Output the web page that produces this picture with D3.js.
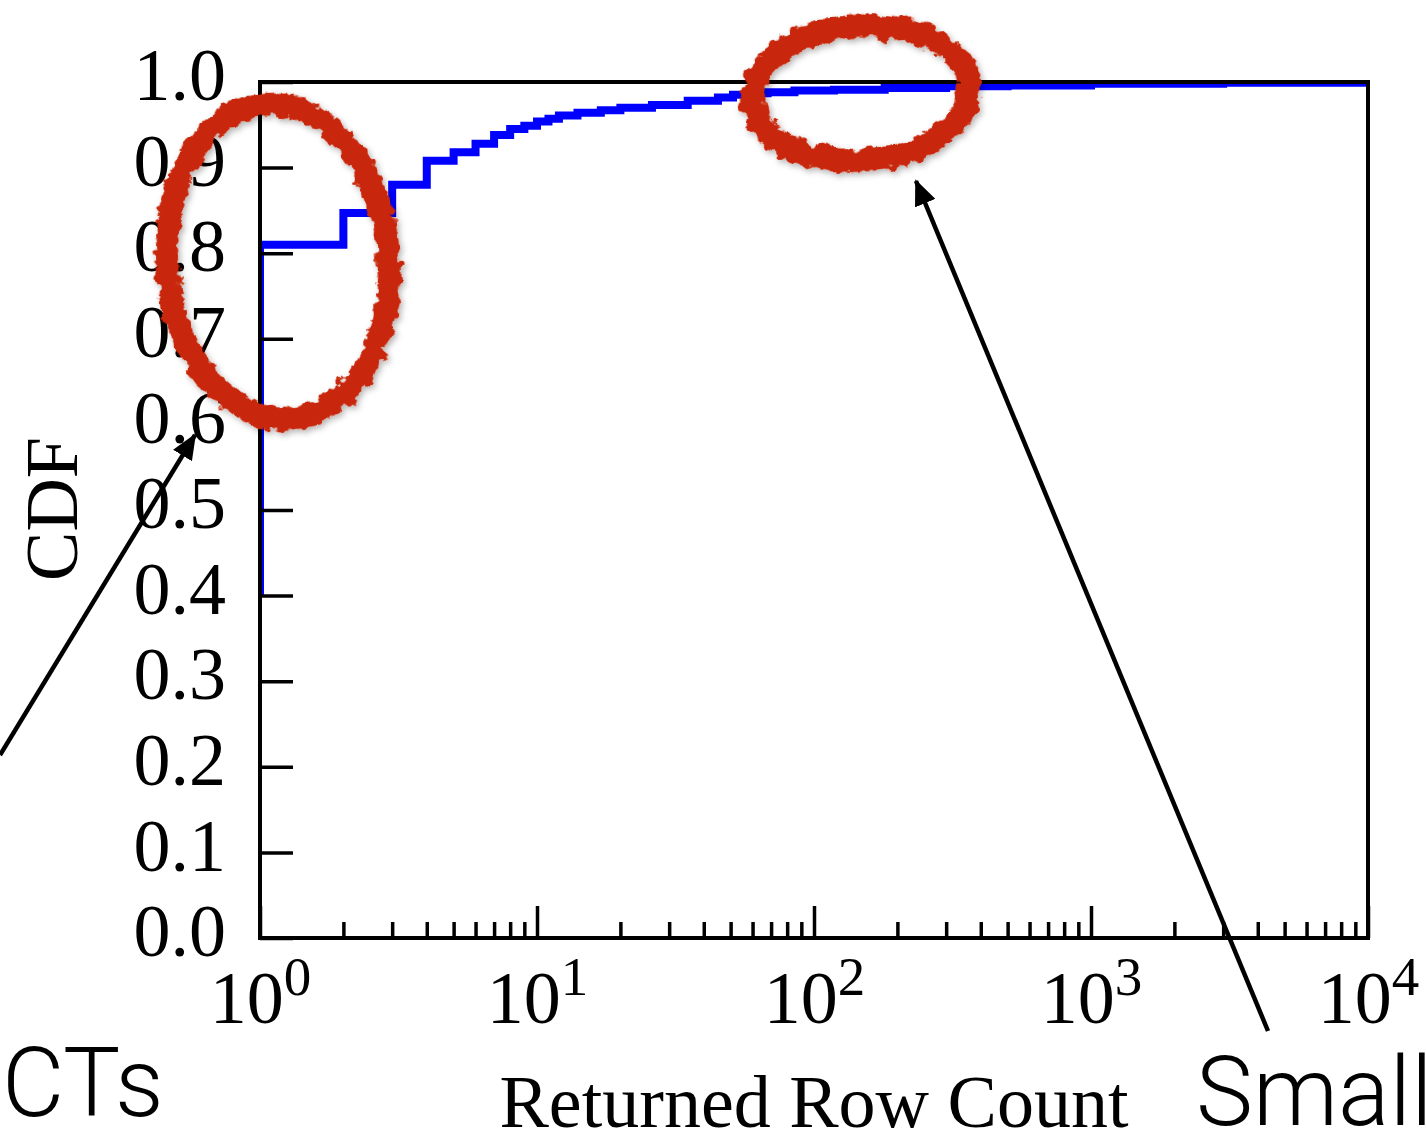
<!DOCTYPE html>
<html>
<head>
<meta charset="utf-8">
<script src="https://cdn.jsdelivr.net/npm/d3@7"></script>
<style>
  body { margin: 0; background: #fff; }
  svg { display: block; }
</style>
</head>
<body>
<div id="chart"></div>
<script>
// returned row count (x) and cumulative fraction of queries (y)
const rowCounts = [1, 1, 2, 3, 4, 5, 6, 7, 8, 9, 10, 11, 12, 14, 17, 20, 26, 35, 45, 51, 60, 68, 85, 118, 180, 300, 500, 1000, 3000, 10000];
const cdfValues = [0.40, 0.81, 0.847, 0.880, 0.908, 0.918, 0.928, 0.938, 0.945, 0.949, 0.954, 0.957, 0.961, 0.964, 0.967, 0.970, 0.973, 0.978, 0.982, 0.985, 0.987, 0.988, 0.990, 0.991, 0.993, 0.995, 0.996, 0.998, 0.999, 0.999];

const xMajorTicks = [1, 10, 100, 1000, 10000];
const xExponents = ["0", "1", "2", "3", "4"];
const yTicks = [0, 0.1, 0.2, 0.3, 0.4, 0.5, 0.6, 0.7, 0.8, 0.9, 1.0];

const margin = {top: 82, right: 58, bottom: 197, left: 260};
const width = 1426 - margin.left - margin.right;
const height = 1135 - margin.top - margin.bottom;

const serif = "'Liberation Serif', 'Times New Roman', serif";
const sans = "Roboto, 'Liberation Sans', Arial, sans-serif";

const root = d3.select("#chart")
    .append("svg")
    .attr("width", width + margin.left + margin.right)
    .attr("height", height + margin.top + margin.bottom);

const defs = root.append("defs");

defs.append("clipPath").attr("id", "plot-clip")
    .append("rect").attr("width", width).attr("height", height);

// marker-pen look for the red circles
const rough = defs.append("filter").attr("id", "rough")
    .attr("x", "-20%").attr("y", "-20%").attr("width", "140%").attr("height", "140%");
rough.append("feTurbulence").attr("type", "fractalNoise").attr("baseFrequency", 0.09)
    .attr("numOctaves", 3).attr("seed", 3).attr("result", "noise");
rough.append("feDisplacementMap").attr("in", "SourceGraphic").attr("in2", "noise")
    .attr("scale", 14).attr("xChannelSelector", "R").attr("yChannelSelector", "G").attr("result", "disp");
rough.append("feGaussianBlur").attr("in", "disp").attr("stdDeviation", 3).attr("result", "blur");
rough.append("feOffset").attr("in", "blur").attr("dx", 2).attr("dy", 3).attr("result", "off");
rough.append("feFlood").attr("flood-color", "#000").attr("flood-opacity", 0.3);
rough.append("feComposite").attr("in2", "off").attr("operator", "in").attr("result", "shadow");
const merge = rough.append("feMerge");
merge.append("feMergeNode").attr("in", "shadow");
merge.append("feMergeNode").attr("in", "disp");

defs.append("marker").attr("id", "head")
    .attr("markerUnits", "userSpaceOnUse")
    .attr("viewBox", "0 0 26 22")
    .attr("markerWidth", 26).attr("markerHeight", 22)
    .attr("refX", 24).attr("refY", 11)
    .attr("orient", "auto")
    .append("path").attr("d", "M0,0 L26,11 L0,22 Z").attr("fill", "#000");

const svg = root.append("g")
    .attr("transform", `translate(${margin.left},${margin.top})`);

const x = d3.scaleLog().domain([1, 1e4]).range([0, width]);
const y = d3.scaleLinear().domain([0, 1]).range([height, 0]);

const data = rowCounts.map((r, i) => ({r, v: cdfValues[i]}));

// CDF line
svg.append("path")
    .datum(data)
    .attr("clip-path", "url(#plot-clip)")
    .attr("fill", "none")
    .attr("stroke", "#0000ff")
    .attr("stroke-width", 8)
    .attr("d", d3.line().x(d => x(d.r)).y(d => y(d.v)).curve(d3.curveStepAfter));

// frame
svg.append("rect")
    .attr("width", width).attr("height", height)
    .attr("fill", "none").attr("stroke", "#000").attr("stroke-width", 4);

// y axis, ticks inward
const yAxis = svg.append("g")
    .call(d3.axisLeft(y).tickValues(yTicks).tickSizeInner(-33).tickSizeOuter(0)
        .tickPadding(34).tickFormat(d3.format(".1f")));
yAxis.select(".domain").remove();
yAxis.selectAll("line").attr("stroke-width", 3.5);
yAxis.selectAll("text")
    .attr("dy", "0.24em")
    .style("font-family", serif)
    .style("font-size", "74px")
    .attr("fill", "#000");

// x axis, minor ticks
const minorTicks = x.ticks().filter(t => !xMajorTicks.includes(t));
const xMinor = svg.append("g")
    .attr("transform", `translate(0,${height})`)
    .call(d3.axisBottom(x).tickValues(minorTicks).tickSizeInner(-16).tickSizeOuter(0).tickFormat(""));
xMinor.select(".domain").remove();
xMinor.selectAll("line").attr("stroke-width", 3.5);

// x axis, major ticks with 10^n labels
const xMajor = svg.append("g")
    .attr("transform", `translate(0,${height})`)
    .call(d3.axisBottom(x).tickValues(xMajorTicks).tickSizeInner(-32).tickSizeOuter(0).tickFormat(""));
xMajor.select(".domain").remove();
xMajor.selectAll("line").attr("stroke-width", 3.5);
xMajor.selectAll(".tick text")
    .attr("y", 85).attr("dy", 0)
    .attr("text-anchor", "middle")
    .style("font-family", serif)
    .style("font-size", "74px")
    .attr("fill", "#000")
    .each(function(d, i) {
        const t = d3.select(this);
        t.append("tspan").text("10");
        t.append("tspan").attr("dy", -28).style("font-size", "55px").text(xExponents[i]);
    });

// axis titles
svg.append("text")
    .attr("x", width / 2)
    .attr("y", 1045)
    .attr("text-anchor", "middle")
    .style("font-family", serif)
    .style("font-size", "74px")
    .text("Returned Row Count");

svg.append("text")
    .attr("transform", `translate(-183,${height / 2 - 1}) rotate(-90)`)
    .attr("text-anchor", "middle")
    .style("font-family", serif)
    .style("font-size", "74px")
    .text("CDF");

// red hand-drawn circles
const circles = [
    {cx: x(1.16), cy: y(0.79), rx: 111, ry: 158, rot: -5},
    {cx: x(147), cy: y(0.987), rx: 109, ry: 67, rot: -4}
];
svg.selectAll(".mark-circle")
    .data(circles)
    .enter().append("ellipse")
    .attr("class", "mark-circle")
    .attr("transform", d => `translate(${d.cx},${d.cy}) rotate(${d.rot})`)
    .attr("rx", d => d.rx).attr("ry", d => d.ry)
    .attr("fill", "none")
    .attr("stroke", "#c82608")
    .attr("stroke-width", 23)
    .attr("filter", "url(#rough)");

// arrows
const arrows = [
    {x1: -260, y1: 673, x2: -65, y2: 353},
    {x1: 1008, y1: 949, x2: 656, y2: 99}
];
svg.selectAll(".arrow")
    .data(arrows)
    .enter().append("line")
    .attr("class", "arrow")
    .attr("x1", d => d.x1).attr("y1", d => d.y1)
    .attr("x2", d => d.x2).attr("y2", d => d.y2)
    .attr("stroke", "#000")
    .attr("stroke-width", 4.5)
    .attr("marker-end", "url(#head)");

// slide captions cut at the picture edge
root.append("text")
    .attr("x", 2).attr("y", 1116)
    .style("font-family", sans)
    .style("font-weight", 300)
    .style("font-size", "96px")
    .text("CTs");

root.append("text")
    .attr("x", 1196).attr("y", 1125)
    .style("font-family", sans)
    .style("font-weight", 300)
    .style("font-size", "96px")
    .text("Small");
</script>
</body>
</html>
